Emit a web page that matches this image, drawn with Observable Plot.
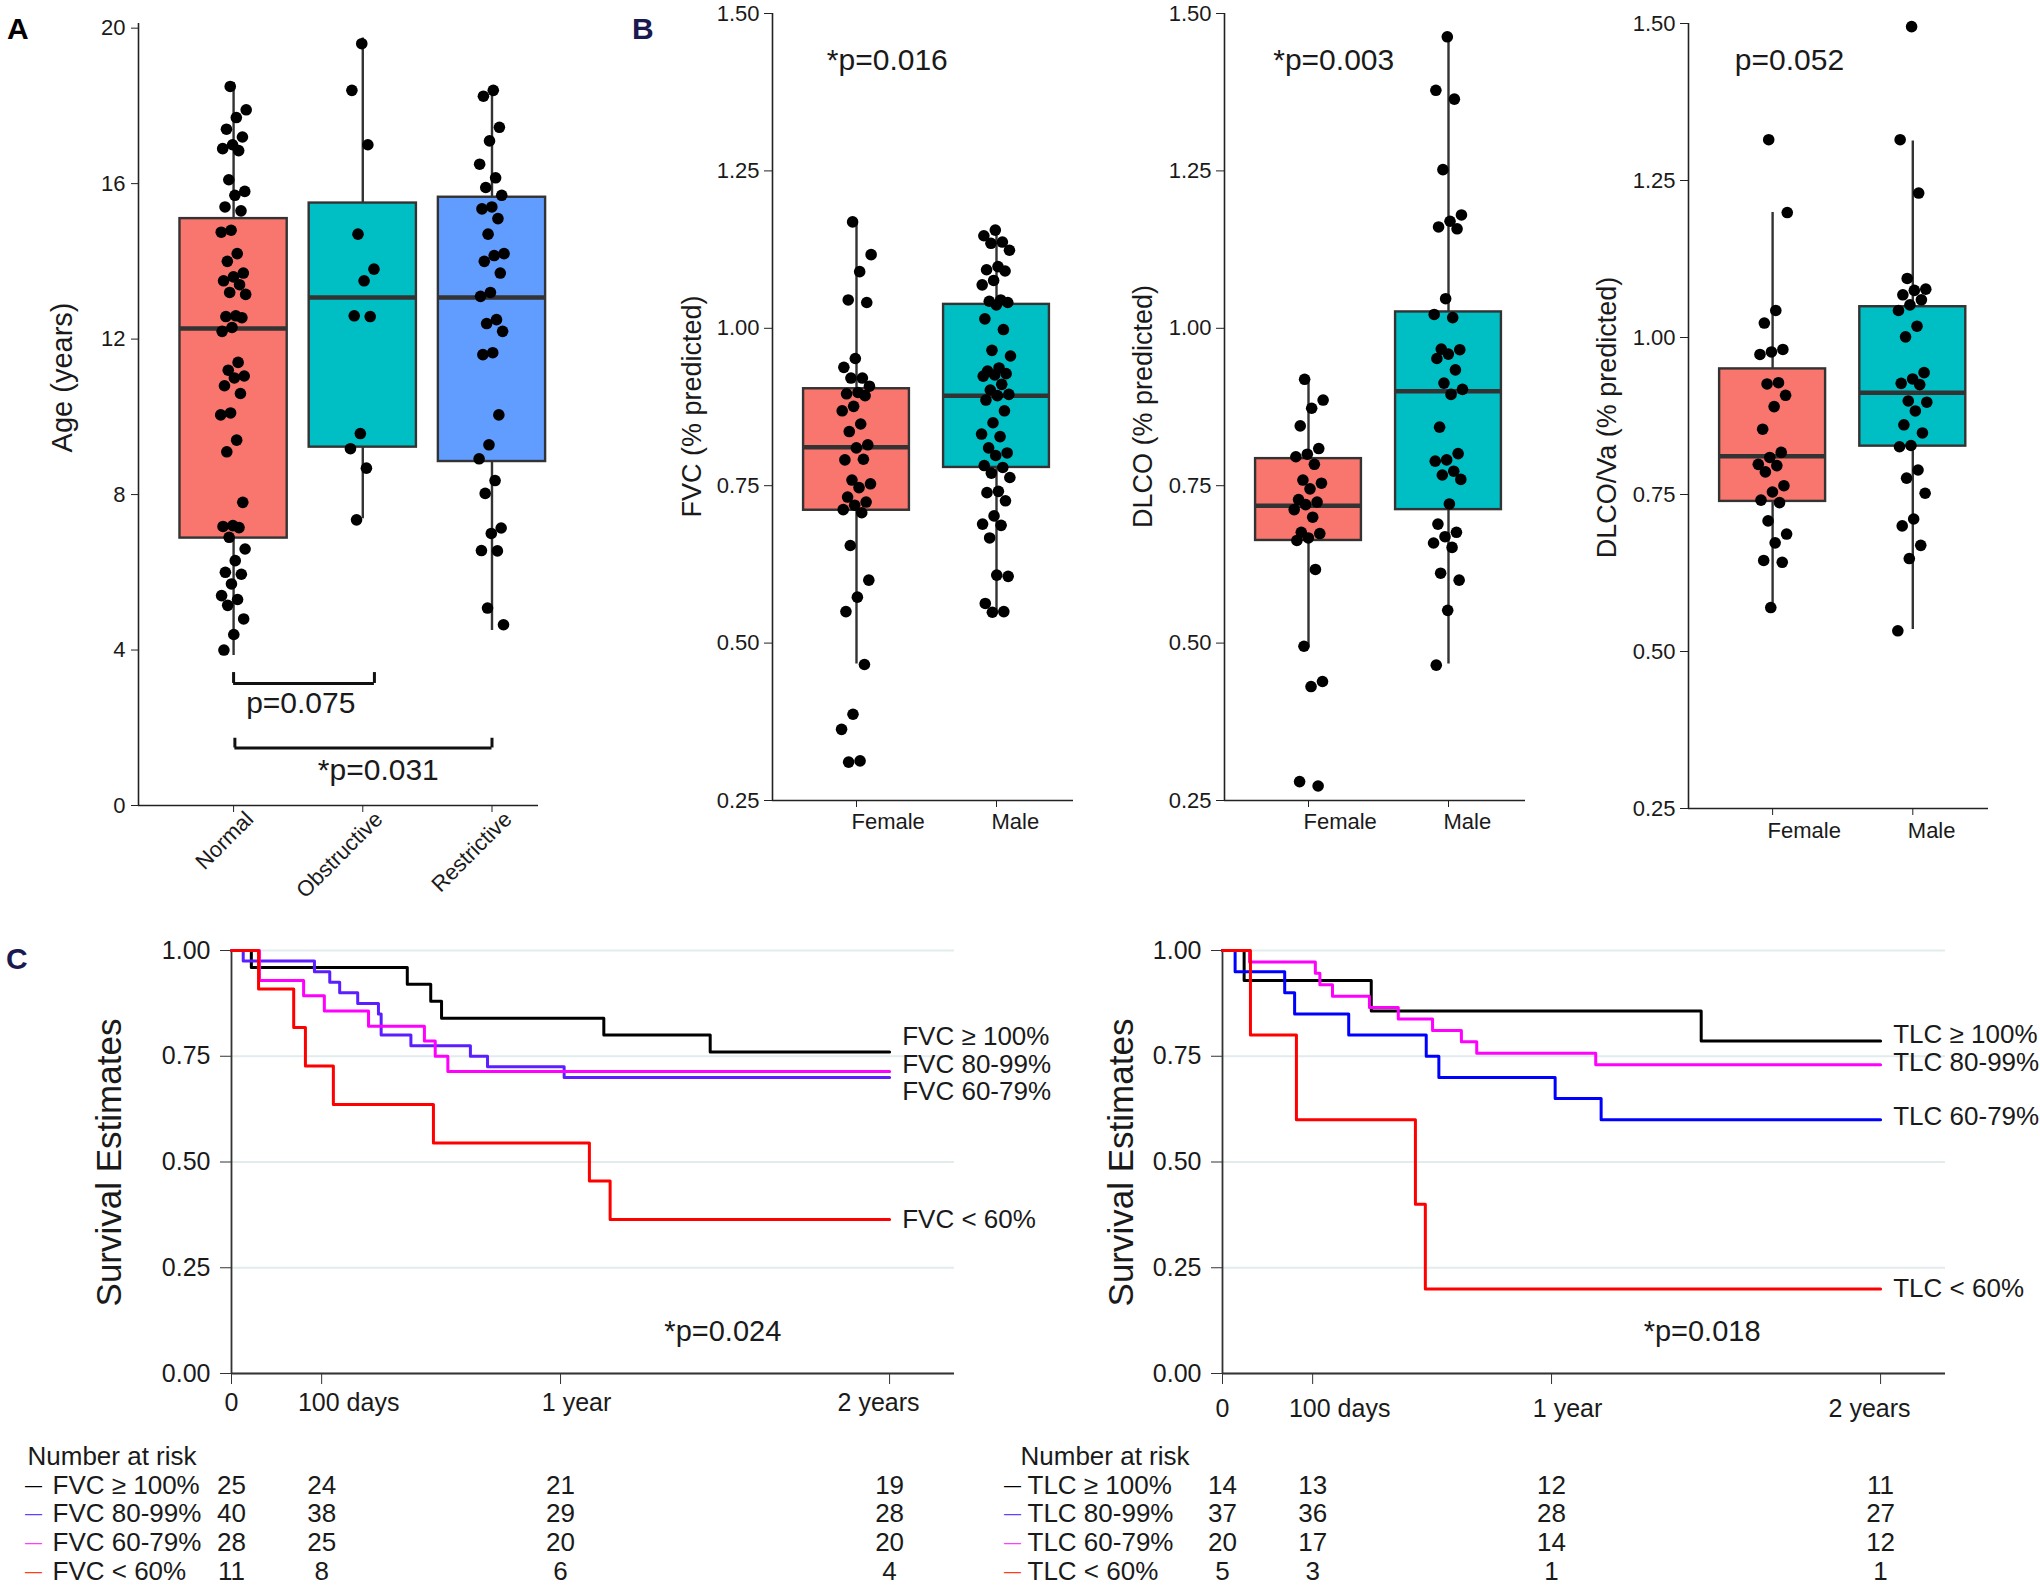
<!DOCTYPE html>
<html>
<head>
<meta charset="utf-8">
<script src="https://cdn.jsdelivr.net/npm/d3@7"></script>
<script src="https://cdn.jsdelivr.net/npm/@observablehq/plot@0.6"></script>
<style>
  html, body { margin: 0; padding: 0; background: #ffffff; }
  #root { position: relative; width: 2040px; height: 1585px; overflow: hidden; background: #ffffff;
          font-family: "Liberation Sans", Arial, Helvetica, sans-serif; }
  .slot { position: absolute; }
  .letter { position: absolute; font-weight: bold; font-size: 30px; line-height: 1; }
</style>
</head>
<body>
<div id="root">
  <div class="letter" style="left:7px;top:14px;color:#000000;">A</div>
  <div class="letter" style="left:632px;top:14px;color:#1a1a50;">B</div>
  <div class="letter" style="left:6px;top:944px;color:#1a1a50;">C</div>
</div>
<script>
// ---------------- Panel A: age by spirometry pattern ----------------
const ageCategories = ["Normal", "Obstructive", "Restrictive"];
const ageColors = ["#F8766D", "#00BFC4", "#619CFF"];
const ageNormal = [18.5,17.9,17.7,17.4,17.2,17.0,16.9,16.85,16.1,15.8,15.7,15.4,15.3,14.8,14.75,14.2,14.0,13.7,13.6,13.5,13.4,13.2,13.15,12.6,12.58,12.55,12.3,12.2,11.4,11.2,11.05,11.0,10.8,10.6,10.1,10.05,9.4,9.1,7.8,7.2,7.18,7.15,6.9,6.6,6.3,6.0,5.95,5.7,5.4,5.3,5.15,4.8,4.4,4.0];
const ageObstructive = [19.6,18.4,17.0,14.7,13.8,13.5,12.6,12.58,9.57,9.18,8.68,7.35];
const ageRestrictive = [18.4,18.25,17.45,17.1,16.5,16.15,15.9,15.7,15.4,15.35,15.1,14.7,14.2,14.15,14.0,13.7,13.2,13.1,12.5,12.4,12.2,11.65,11.6,10.05,9.28,8.92,8.36,8.03,7.14,7.0,6.56,6.55,5.08,4.65];
const ageLow = [3.86, 7.38, 4.5];
const ageQ1 = [6.88, 9.22, 8.85];
const ageMedian = [12.27, 13.07, 13.07];
const ageQ3 = [15.1, 15.5, 15.65];
const ageHigh = [18.6, 19.75, 18.46];
const ageTicks = [0, 4, 8, 12, 16, 20];
const ageTestLabels = ["p=0.075", "*p=0.031"];

// ---------------- Panel B: sex comparisons ----------------
const sexCategories = ["Female", "Male"];
const sexColors = ["#F8766D", "#00BFC4"];
const pctTicks = [0.25, 0.5, 0.75, 1.0, 1.25, 1.5];

const fvcFemale = [1.169,1.117,1.09,1.045,1.041,0.952,0.938,0.921,0.921,0.908,0.898,0.896,0.893,0.876,0.869,0.848,0.836,0.815,0.81,0.791,0.792,0.759,0.753,0.747,0.732,0.724,0.719,0.712,0.707,0.655,0.6,0.573,0.55,0.466,0.387,0.363,0.313,0.311];
const fvcMale = [1.156,1.147,1.137,1.135,1.124,1.098,1.093,1.091,1.076,1.069,1.045,1.043,1.041,1.037,1.015,0.998,0.965,0.956,0.937,0.932,0.928,0.926,0.924,0.911,0.902,0.895,0.893,0.886,0.869,0.85,0.832,0.828,0.81,0.802,0.798,0.782,0.779,0.77,0.763,0.741,0.739,0.726,0.702,0.689,0.687,0.667,0.606,0.608,0.563,0.55,0.549];
const fvcLow = [0.467, 0.55];
const fvcQ1 = [0.711, 0.779];
const fvcMedian = [0.811, 0.893];
const fvcQ3 = [0.904, 1.038];
const fvcHigh = [1.167, 1.152];

const dlcoFemale = [0.919,0.886,0.873,0.845,0.809,0.8,0.796,0.784,0.759,0.754,0.745,0.728,0.724,0.72,0.712,0.7,0.676,0.674,0.667,0.663,0.617,0.495,0.439,0.431,0.28,0.273];
const dlcoMale = [1.463,1.378,1.364,1.252,1.18,1.17,1.161,1.158,1.047,1.022,1.017,0.967,0.966,0.959,0.952,0.934,0.913,0.903,0.895,0.843,0.801,0.791,0.789,0.773,0.767,0.76,0.721,0.689,0.676,0.669,0.659,0.652,0.611,0.6,0.552,0.465];
const dlcoLow = [0.495, 0.467];
const dlcoQ1 = [0.663, 0.712];
const dlcoMedian = [0.718, 0.90];
const dlcoQ3 = [0.793, 1.026];
const dlcoHigh = [0.919, 1.463];

const dlcoVaFemale = [1.315,1.199,1.043,1.023,0.981,0.977,0.973,0.928,0.926,0.908,0.89,0.854,0.817,0.809,0.798,0.796,0.786,0.764,0.754,0.741,0.737,0.708,0.687,0.673,0.645,0.642,0.57];
const dlcoVaMale = [1.495,1.315,1.23,1.094,1.077,1.075,1.068,1.06,1.052,1.043,1.018,1.001,0.944,0.934,0.927,0.925,0.899,0.897,0.883,0.861,0.848,0.828,0.826,0.789,0.776,0.752,0.711,0.7,0.669,0.648,0.533];
const dlcoVaLow = [0.571, 0.535];
const dlcoVaQ1 = [0.739, 0.827];
const dlcoVaMedian = [0.811, 0.912];
const dlcoVaQ3 = [0.95, 1.049];
const dlcoVaHigh = [1.199, 1.313];

const sexTestLabels = ["*p=0.016", "*p=0.003", "p=0.052"];

// ---------------- Panel C: Kaplan–Meier ----------------
const kmTickDays = [0, 100, 365, 730];
const kmTickLabels = ["0", "100 days", "1 year", "2 years"];
const survivalTicks = [0, 0.25, 0.5, 0.75, 1.0];
const riskTimes = [0, 100, 365, 730];

const fvcGroups = ["FVC ≥ 100%", "FVC 80-99%", "FVC 60-79%", "FVC < 60%"];
const fvcTimes = [
  [0, 22, 195, 221, 233, 413, 531, 730],
  [0, 13, 92, 109, 120, 140, 163, 166, 199, 265, 284, 369, 730],
  [0, 31, 80, 103, 152, 214, 226, 240, 730],
  [0, 30, 69, 82, 113, 224, 397, 420, 730]
];
const fvcSurvival = [
  [1, 0.96, 0.92, 0.88, 0.84, 0.80, 0.76, 0.76],
  [1, 0.975, 0.95, 0.925, 0.90, 0.875, 0.85, 0.80, 0.775, 0.75, 0.725, 0.70, 0.70],
  [1, 0.929, 0.893, 0.857, 0.821, 0.786, 0.75, 0.714, 0.714],
  [1, 0.909, 0.818, 0.727, 0.636, 0.545, 0.455, 0.364, 0.364]
];
const fvcCurveColors = ["#000000", "#5a1eff", "#ff00ff", "#ff0000"];
const fvcAtRisk = [[25, 24, 21, 19], [40, 38, 29, 28], [28, 25, 20, 20], [11, 8, 6, 4]];
const fvcTest = "*p=0.024";

const tlcGroups = ["TLC ≥ 100%", "TLC 80-99%", "TLC 60-79%", "TLC < 60%"];
const tlcTimes = [
  [0, 24, 165, 531, 730],
  [0, 30, 103, 108, 122, 163, 195, 233, 265, 282, 414, 730],
  [0, 14, 69, 80, 140, 226, 240, 369, 420, 730],
  [0, 31, 82, 214, 225, 730]
];
const tlcSurvival = [
  [1, 0.929, 0.857, 0.786, 0.786],
  [1, 0.973, 0.946, 0.919, 0.892, 0.865, 0.838, 0.811, 0.784, 0.757, 0.730, 0.730],
  [1, 0.95, 0.90, 0.85, 0.80, 0.75, 0.70, 0.65, 0.60, 0.60],
  [1, 0.8, 0.6, 0.4, 0.2, 0.2]
];
const tlcCurveColors = ["#000000", "#ff00ff", "#0000ff", "#ff0000"];
const tlcAtRisk = [[14, 13, 12, 11], [37, 36, 28, 27], [20, 17, 14, 12], [5, 3, 1, 1]];
const tlcTest = "*p=0.018";
const riskDashColors = ["#000000", "#6a3cff", "#ff3cff", "#ff3c1e"];

// ---------------- helpers ----------------
const FONT = "'Liberation Sans', Arial, Helvetica, sans-serif";
const INK = "#1a1a1a";
const root = document.getElementById("root");

function place(node, left, top) {
  const d = document.createElement("div");
  d.className = "slot";
  d.style.left = left + "px";
  d.style.top = top + "px";
  d.appendChild(node);
  root.appendChild(d);
}

function baseStyle() {
  return { fontFamily: FONT, fontSize: "22px", color: INK, background: "transparent", overflow: "visible" };
}

// deterministic horizontal spread of the points (visual jitter only)
function spread(j, amp) {
  const f = (j * 0.6180339887 + 0.37) % 1;
  return (f - 0.5) * 2 * amp;
}

function boxPlot(o) {
  const rows = o.cats.map((name, k) => ({
    i: k + 1, name, color: o.colors[k],
    lo: o.low[k], q1: o.q1[k], med: o.med[k], q3: o.q3[k], hi: o.high[k]
  }));
  const pts = o.groups.flatMap((vals, k) => vals.map((v, j) => ({ x: k + 1 + spread(j + 5 * k, o.amp), v })));
  const [x0, x1] = o.xDomain;
  const [y0, y1] = o.yDomain;
  const hw = o.halfW;
  const marks = [
    Plot.ruleX(rows, { x: "i", y1: "lo", y2: "hi", stroke: "#333333", strokeWidth: 2.4 }),
    Plot.rect(rows, { x1: d => d.i - hw, x2: d => d.i + hw, y1: "q1", y2: "q3", fill: "color", stroke: "#333333", strokeWidth: 2.4 }),
    Plot.ruleY(rows, { y: "med", x1: d => d.i - hw, x2: d => d.i + hw, stroke: "#333333", strokeWidth: 4.5 }),
    Plot.dot(pts, { x: "x", y: "v", r: 5.8, fill: "#000000", stroke: "none" }),
    Plot.ruleX([x0], { y1: y0, y2: y1, stroke: "#222222", strokeWidth: 1.6 }),
    Plot.ruleY([y0], { x1: x0, x2: x1, stroke: "#222222", strokeWidth: 1.6 }),
    Plot.axisY({ ticks: o.yTicks, tickFormat: o.yFmt, tickSize: o.tickSize, tickPadding: o.tickPad, fontSize: 22, label: null, stroke: "#222222", fill: INK }),
    Plot.axisX({ ticks: rows.map(d => d.i), tickSize: 7, fill: "none", label: null, stroke: "#222222" }),
    Plot.text([o.yLabel], { frameAnchor: "top-left", dx: o.yLabelPos[0] - o.mL, dy: o.yLabelPos[1] - o.mT, rotate: -90, textAnchor: "middle", lineAnchor: "middle", fontSize: o.yLabelSize, fill: INK })
  ];
  if (o.rotatedLabels) {
    marks.push(Plot.text(rows, { x: "i", y: () => y0, text: "name", rotate: -45, textAnchor: "end", lineAnchor: "top", dx: 10, dy: 4, fontSize: 22, fill: INK }));
  } else {
    marks.push(Plot.text(rows, { x: "i", y: () => y0, text: "name", textAnchor: "start", lineAnchor: "middle", dx: -5, dy: o.labelDy, fontSize: 22, fill: INK }));
  }
  return Plot.plot({
    width: o.width, height: o.height,
    marginLeft: o.mL, marginRight: o.mR, marginTop: o.mT, marginBottom: o.mB,
    x: { domain: o.xDomain }, y: { domain: o.yDomain },
    color: { type: "identity" },
    style: baseStyle(),
    marks: marks.concat(o.extra || [])
  });
}

// ---------------- Panel A ----------------
const plotA = boxPlot({
  cats: ageCategories, colors: ageColors,
  low: ageLow, q1: ageQ1, med: ageMedian, q3: ageQ3, high: ageHigh,
  groups: [ageNormal, ageObstructive, ageRestrictive],
  xDomain: [0.264, 3.36], yDomain: [0, 20.12], yTicks: ageTicks, yFmt: d3.format("d"),
  width: 560, height: 900, mL: 138, mR: 22, mT: 23, mB: 95,
  halfW: 0.415, amp: 0.1, tickSize: 7, tickPad: 6,
  yLabel: "Age (years)", yLabelPos: [62, 377], yLabelSize: 29,
  rotatedLabels: true,
  extra: [
    // comparison brackets
    Plot.ruleY([3.14], { x1: 1, x2: 2.09, stroke: "#111111", strokeWidth: 3 }),
    Plot.ruleX([1, 2.09], { y1: 3.14, y2: 3.42, stroke: "#111111", strokeWidth: 3 }),
    Plot.text([ageTestLabels[0]], { x: () => 1.52, y: () => 2.62, fontSize: 30, fill: INK, lineAnchor: "middle" }),
    Plot.ruleY([1.48], { x1: 1.01, x2: 3.0, stroke: "#111111", strokeWidth: 3 }),
    Plot.ruleX([1.01, 3.0], { y1: 1.48, y2: 1.73, stroke: "#111111", strokeWidth: 3 }),
    Plot.text([ageTestLabels[1]], { x: () => 2.12, y: () => 0.9, fontSize: 30, fill: INK, lineAnchor: "middle" })
  ]
});
place(plotA, 0, 0);

// ---------------- Panel B ----------------
const plotB1 = boxPlot({
  cats: sexCategories, colors: sexColors,
  low: fvcLow, q1: fvcQ1, med: fvcMedian, q3: fvcQ3, high: fvcHigh,
  groups: [fvcFemale, fvcMale],
  xDomain: [0.4, 2.55], yDomain: [0.25, 1.5], yTicks: pctTicks, yFmt: d3.format(".2f"),
  width: 470, height: 860, mL: 152, mR: 17, mT: 13, mB: 60,
  halfW: 0.378, amp: 0.107, tickSize: 8, tickPad: 5,
  yLabel: "FVC (% predicted)", yLabelPos: [72, 406], yLabelSize: 27,
  labelDy: 21,
  extra: [Plot.text([sexTestLabels[0]], { x: () => 1.22, y: () => 1.425, fontSize: 30, fill: INK, lineAnchor: "middle" })]
});
place(plotB1, 620, 0);

const plotB2 = boxPlot({
  cats: sexCategories, colors: sexColors,
  low: dlcoLow, q1: dlcoQ1, med: dlcoMedian, q3: dlcoQ3, high: dlcoHigh,
  groups: [dlcoFemale, dlcoMale],
  xDomain: [0.4, 2.55], yDomain: [0.25, 1.5], yTicks: pctTicks, yFmt: d3.format(".2f"),
  width: 460, height: 860, mL: 134, mR: 25, mT: 13, mB: 60,
  halfW: 0.378, amp: 0.107, tickSize: 8, tickPad: 5,
  yLabel: "DLCO (% predicted)", yLabelPos: [53, 406], yLabelSize: 27,
  labelDy: 21,
  extra: [Plot.text([sexTestLabels[1]], { x: () => 1.18, y: () => 1.425, fontSize: 30, fill: INK, lineAnchor: "middle" })]
});
place(plotB2, 1090, 0);

const plotB3 = boxPlot({
  cats: sexCategories, colors: sexColors,
  low: dlcoVaLow, q1: dlcoVaQ1, med: dlcoVaMedian, q3: dlcoVaQ3, high: dlcoVaHigh,
  groups: [dlcoVaFemale, dlcoVaMale],
  xDomain: [0.4, 2.54], yDomain: [0.25, 1.5], yTicks: pctTicks, yFmt: d3.format(".2f"),
  width: 490, height: 860, mL: 138, mR: 52, mT: 23, mB: 52,
  halfW: 0.378, amp: 0.107, tickSize: 8, tickPad: 5,
  yLabel: "DLCO/Va (% predicted)", yLabelPos: [57, 417], yLabelSize: 27,
  labelDy: 22,
  extra: [Plot.text([sexTestLabels[2]], { x: () => 1.12, y: () => 1.441, fontSize: 30, fill: INK, lineAnchor: "middle" })]
});
place(plotB3, 1550, 0);

// ---------------- Panel C ----------------
const KM_XMAX = 802;
const tickLabelShift = [0, 27, 16, -11];

function kmPlot(o) {
  const lines = o.groups.flatMap((g, k) => o.times[k].map((t, j) => ({ g, t, s: o.surv[k][j], color: o.colors[k] })));
  const labelRows = o.groups.map((g, k) => ({ g, y: o.labelY[k] }));
  const marks = [
    Plot.ruleY(survivalTicks, { x1: 0, x2: KM_XMAX, stroke: "#e2ebee", strokeWidth: 2 }),
    Plot.ruleX([0], { y1: 0, y2: 1, stroke: "#333333", strokeWidth: 1.8 }),
    Plot.ruleY([0], { x1: 0, x2: KM_XMAX, stroke: "#333333", strokeWidth: 1.8 }),
    Plot.axisY({ ticks: survivalTicks, tickFormat: d3.format(".2f"), tickSize: 11, tickPadding: 10, fontSize: 25, label: null, stroke: "#333333", fill: INK }),
    Plot.axisX({ ticks: kmTickDays, tickSize: 11, fill: "none", label: null, stroke: "#333333" }),
    ...kmTickDays.map((d, i) => Plot.text([kmTickLabels[i]], { x: () => d, y: () => 0, dx: tickLabelShift[i], dy: o.tickLabelDy, fontSize: 25, fill: INK, lineAnchor: "middle" })),
    Plot.line(lines, { x: "t", y: "s", z: "g", stroke: "color", strokeWidth: 3, curve: "step-after" }),
    Plot.text(labelRows, { x: () => 744, y: "y", text: "g", textAnchor: "start", lineAnchor: "middle", fontSize: 26, fill: INK }),
    Plot.text([o.test], { x: () => o.testDay, y: () => 0.099, fontSize: 29, fill: INK, lineAnchor: "middle" }),
    Plot.text(["Survival Estimates"], { frameAnchor: "top-left", dx: o.titleX - o.mL, dy: 1162 - 900 - 50, rotate: -90, textAnchor: "middle", lineAnchor: "middle", fontSize: 35, fill: INK })
  ];
  return Plot.plot({
    width: o.width, height: 560,
    marginLeft: o.mL, marginRight: o.mR, marginTop: 50, marginBottom: 87,
    x: { domain: [0, KM_XMAX] }, y: { domain: [0, 1] },
    color: { type: "identity" },
    style: baseStyle(),
    marks
  });
}

function riskTable(o) {
  const cells = o.groups.flatMap((g, k) => o.counts[k].map((c, j) => ({ row: k + 1, t: riskTimes[j], c: String(c) })));
  const rows = o.groups.map((g, k) => ({ g, row: k + 1, color: riskDashColors[k] }));
  return Plot.plot({
    width: o.width, height: 150,
    marginLeft: o.mL, marginRight: o.mR, marginTop: 0, marginBottom: 0,
    x: { domain: [0, KM_XMAX], axis: null },
    y: { domain: [0, 4], range: [21, 136], axis: null },
    color: { type: "identity" },
    style: baseStyle(),
    marks: [
      Plot.text(["Number at risk"], { frameAnchor: "left", y: () => 0, dx: o.headX - o.absLeft, textAnchor: "start", lineAnchor: "middle", fontSize: 26, fill: INK }),
      Plot.text(rows, { frameAnchor: "left", y: "row", text: () => "—", dx: o.dashX - o.absLeft, textAnchor: "middle", lineAnchor: "middle", fontSize: 17, fill: "color" }),
      Plot.text(rows, { frameAnchor: "left", y: "row", text: "g", dx: o.labX - o.absLeft, textAnchor: "start", lineAnchor: "middle", fontSize: 26, fill: INK }),
      Plot.text(cells, { x: "t", y: "row", text: "c", textAnchor: "middle", lineAnchor: "middle", fontSize: 26, fill: INK })
    ]
  });
}

place(kmPlot({
  groups: fvcGroups, times: fvcTimes, surv: fvcSurvival, colors: fvcCurveColors,
  labelY: [0.797, 0.73, 0.667, 0.364], test: fvcTest, testDay: 545,
  width: 1060, mL: 231, mR: 106, titleX: 109, tickLabelDy: 29
}), 0, 900);

place(kmPlot({
  groups: tlcGroups, times: tlcTimes, surv: tlcSurvival, colors: tlcCurveColors,
  labelY: [0.80, 0.735, 0.607, 0.20], test: tlcTest, testDay: 532,
  width: 1040, mL: 222, mR: 95, titleX: 121, tickLabelDy: 35
}), 1000, 900);

place(riskTable({
  groups: fvcGroups, counts: fvcAtRisk, width: 1060, mL: 231, mR: 106,
  absLeft: 231, headX: 27, dashX: 33, labX: 52
}), 0, 1435);

place(riskTable({
  groups: tlcGroups, counts: tlcAtRisk, width: 1040, mL: 222, mR: 95,
  absLeft: 1222, headX: 1020, dashX: 1012, labX: 1027
}), 1000, 1435);
</script>
</body>
</html>
